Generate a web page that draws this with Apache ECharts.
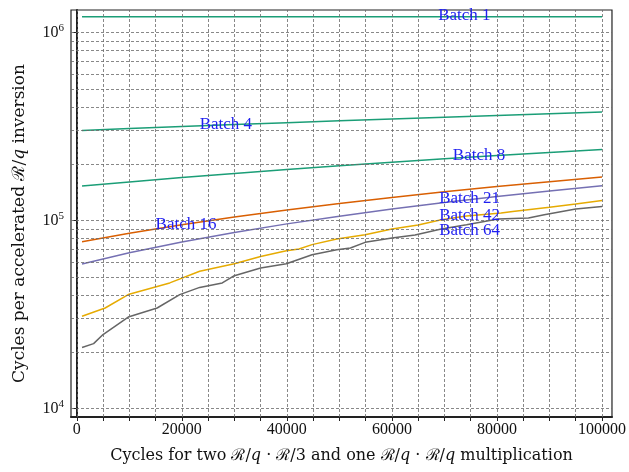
<!DOCTYPE html>
<html>
<head>
<meta charset="utf-8">
<style>
  html, body { margin: 0; padding: 0; background: #fff; }
  #main { width: 629px; height: 472px; }
</style>
<script src="https://cdn.jsdelivr.net/npm/echarts@6/dist/echarts.min.js"></script>
</head>
<body>
<div id="main"></div>
<script>
// x values shared by the straight-ish series
var xCommon = [1000, 10000, 20000, 30000, 40000, 50000, 60000, 70000, 80000, 90000, 100000];
var batch1 = [1212000, 1212000, 1212000, 1212000, 1212000, 1212000, 1212000, 1212000, 1212000, 1212000, 1212000];
var batch4 = [301000, 307900, 315600, 323300, 330900, 338600, 346300, 353900, 361600, 369300, 377000];
var batch8 = [152400, 160200, 168900, 177600, 186300, 195000, 203700, 212400, 221100, 229800, 238500];
var batch16 = [77000, 85500, 94800, 104200, 113600, 123000, 132400, 141800, 151200, 160600, 170000];
var batch21 = [58600, 67200, 76700, 86300, 95800, 105300, 114900, 124400, 133900, 143500, 153000];

// the two stepped curves
var batch42X = [1000, 5400, 9800, 17700, 23400, 30000, 35000, 39900, 42300, 44800, 49500, 54900, 60000, 65000, 69400, 74200, 80800, 83000, 90000, 95000, 100000];
var batch42Y = [30900, 34200, 40300, 46500, 53600, 58800, 64300, 69000, 70500, 74300, 79600, 83900, 90000, 94500, 100900, 105500, 109500, 111600, 117300, 122200, 127700];
var batch64X = [1000, 3200, 5000, 9800, 15300, 19600, 23400, 27700, 30000, 35000, 39900, 44800, 49500, 52100, 54900, 60000, 64400, 69400, 74200, 80200, 86000, 89000, 95000, 100000];
var batch64Y = [21100, 22100, 24700, 30600, 34200, 40300, 44000, 46500, 50800, 55800, 58800, 65700, 69800, 71300, 76400, 80600, 83500, 90000, 94900, 101700, 103000, 107200, 115000, 118700];

// in-plot labels (data coordinates of the label's left/middle)
var labelNames = ['Batch 1', 'Batch 4', 'Batch 8', 'Batch 16', 'Batch 21', 'Batch 42', 'Batch 64'];
var labelX = [68800, 23400, 71600, 15000, 69000, 69000, 69000];
var labelY = [1222000, 324000, 220000, 95200, 131000, 105500, 88100];

// tick / grid values
var xLabelTicks = [0, 20000, 40000, 60000, 80000, 100000];
var xMinorTicks = [];
for (var i = 0; i <= 20; i++) xMinorTicks.push(i * 5000);
var yGridVals = [10000, 20000, 30000, 40000, 50000, 60000, 70000, 80000, 90000,
  100000, 200000, 300000, 400000, 500000, 600000, 700000, 800000, 900000, 1000000];

var serif = 'Liberation Serif';
var titleFont = 'DejaVu Serif';

function pairs(xs, ys) {
  var out = [];
  for (var i = 0; i < xs.length; i++) out.push([xs[i], ys[i]]);
  return out;
}

var seriesDefs = [
  { name: 'Batch 1', color: '#1b9e77', data: pairs(xCommon, batch1) },
  { name: 'Batch 4', color: '#1b9e77', data: pairs(xCommon, batch4) },
  { name: 'Batch 8', color: '#1b9e77', data: pairs(xCommon, batch8) },
  { name: 'Batch 16', color: '#d95f02', data: pairs(xCommon, batch16) },
  { name: 'Batch 21', color: '#7570b3', data: pairs(xCommon, batch21) },
  { name: 'Batch 42', color: '#e6ab02', data: pairs(batch42X, batch42Y) },
  { name: 'Batch 64', color: '#666666', data: pairs(batch64X, batch64Y) }
];

var gridStyle = { type: [3, 2], color: '#6a6a6a', width: 0.8 };

var series = [{
  name: 'grid',
  type: 'line',
  data: [],
  z: 1,
  silent: true,
  markLine: {
    silent: true,
    symbol: ['none', 'none'],
    animation: false,
    label: { show: false },
    lineStyle: gridStyle,
    data: xMinorTicks.map(function (v) { return { xAxis: v }; })
      .concat(yGridVals.map(function (v) { return { yAxis: v }; }))
  }
}];

seriesDefs.forEach(function (s) {
  series.push({
    name: s.name,
    type: 'line',
    data: s.data,
    z: 3,
    showSymbol: false,
    symbol: 'none',
    animation: false,
    lineStyle: { color: s.color, width: 1.5 },
    itemStyle: { color: s.color }
  });
});

// labels drawn as markPoints on a helper series
series.push({
  name: 'labels',
  type: 'line',
  data: [],
  z: 5,
  markPoint: {
    symbolSize: 0,
    animation: false,
    label: {
      show: true,
      position: 'right',
      distance: 0,
      color: '#1f1ff0',
      fontFamily: serif,
      fontSize: 17,
      formatter: function (p) { return p.name; }
    },
    data: labelNames.map(function (n, i) {
      return { name: n, coord: [labelX[i], labelY[i]] };
    })
  }
});

var chart = echarts.init(document.getElementById('main'), null, { renderer: 'canvas' });
chart.setOption({
  backgroundColor: '#fff',
  animation: false,
  grid: {
    left: 71, right: 14, top: 10, bottom: 55,
    show: true, borderColor: '#222', borderWidth: 1.2, backgroundColor: 'transparent'
  },
  xAxis: {
    type: 'value',
    min: -1100,
    max: 101900,
    name: 'Cycles for two ℛ/{i|q} · ℛ/3 and one ℛ/{i|q} · ℛ/{i|q} multiplication',
    nameLocation: 'middle',
    nameGap: 31,
    nameTextStyle: {
      fontFamily: titleFont, fontSize: 16, color: '#111',
      rich: { i: { fontFamily: titleFont, fontSize: 16, fontStyle: 'italic', color: '#111' } }
    },
    axisLine: { show: true, onZero: false, lineStyle: { color: '#222', width: 2 } },
    axisTick: { show: true, length: 4, customValues: xMinorTicks, lineStyle: { color: '#222' } },
    axisLabel: {
      customValues: xLabelTicks, fontFamily: serif, fontSize: 16, color: '#111', margin: 5,
      formatter: function (v) { return String(v); }
    },
    splitLine: { show: false }
  },
  yAxis: {
    type: 'log',
    logBase: 10,
    min: 9000,
    max: 1315000,
    name: 'Cycles per accelerated ℛ/{i|q} inversion',
    nameLocation: 'middle',
    nameGap: 43,
    nameTextStyle: {
      fontFamily: titleFont, fontSize: 17, color: '#111',
      padding: [0, 20, 0, 0],
      rich: { i: { fontFamily: titleFont, fontSize: 17, fontStyle: 'italic', color: '#111' } }
    },
    axisLine: { show: true, lineStyle: { color: '#222', width: 2 } },
    axisTick: { show: true, length: 4, lineStyle: { color: '#222' } },
    axisLabel: {
      showMinLabel: false,
      showMaxLabel: false,
      margin: 7,
      formatter: function (v) {
        var e = Math.round(Math.log10(v));
        if (Math.abs(v - Math.pow(10, e)) > 1e-6 * v) return '';
        return '{b|10}{s|' + e + '}';
      },
      rich: {
        b: { fontFamily: serif, fontSize: 16, color: '#111' },
        s: { fontFamily: serif, fontSize: 11, color: '#111', padding: [0, 0, 9, 0] }
      }
    },
    splitLine: { show: false },
    minorTick: { show: false }
  },
  series: series
});
</script>
</body>
</html>
